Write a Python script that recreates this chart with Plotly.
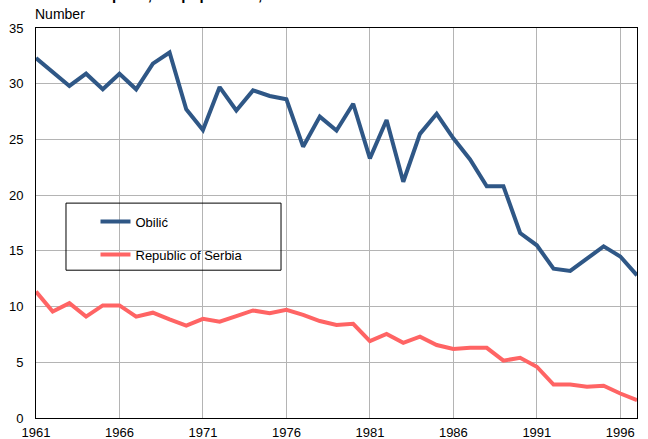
import plotly.graph_objects as go

years = list(range(1961, 1998))
obilic = [32.3, 31.1, 29.8, 30.9, 29.5, 30.9, 29.5, 31.8, 32.8, 27.7,
          25.85, 29.7, 27.6, 29.4, 28.9, 28.6, 24.35, 27.05, 25.8, 28.2,
          23.3, 26.75, 21.2, 25.5, 27.3, 25.1, 23.2, 20.8, 20.8, 16.6,
          15.5, 13.4, 13.2, 14.3, 15.4, 14.5, 12.8]
serbia = [11.35, 9.55, 10.3, 9.1, 10.1, 10.1, 9.1, 9.45, 8.85, 8.3,
          8.9, 8.65, 9.15, 9.65, 9.4, 9.7, 9.25, 8.7, 8.35, 8.45,
          6.9, 7.55, 6.75, 7.3, 6.55, 6.2, 6.3, 6.3, 5.15, 5.4,
          4.6, 3.0, 3.0, 2.8, 2.9, 2.2, 1.6]
tick_years = [1961, 1966, 1971, 1976, 1981, 1986, 1991, 1996]
y_ticks = [0, 5, 10, 15, 20, 25, 30, 35]

FONT = "Liberation Sans, Arial, sans-serif"
BLUE = "#2F5786"
RED = "#FF6464"

fig = go.Figure()
fig.add_trace(go.Scatter(x=years, y=obilic, mode="lines", name="Obilić",
                         line=dict(color=BLUE, width=4), legendgroup="a"))
fig.add_trace(go.Scatter(x=years, y=serbia, mode="lines", name="Republic of Serbia",
                         line=dict(color=RED, width=4), legendgroup="b"))

fig.update_layout(
    width=648, height=439,
    margin=dict(l=36, r=11, t=28, b=21),
    paper_bgcolor="white", plot_bgcolor="white",
    font=dict(family=FONT, size=13, color="black"),
    showlegend=True,
    legend=dict(x=0.099, y=0.542, xanchor="left", yanchor="top",
                bgcolor="rgba(0,0,0,0)", borderwidth=0,
                tracegroupgap=13, font=dict(size=13)),
    xaxis=dict(range=[1961, 1997], tickvals=tick_years, ticktext=[str(t) for t in tick_years],
               showgrid=True, gridcolor="#B4B4B4", gridwidth=1,
               showline=True, linecolor="black", linewidth=1, mirror=True,
               ticks="", zeroline=False, tickfont=dict(size=13),
               automargin=False, ticklabelstandoff=2),
    yaxis=dict(range=[0, 35], tickvals=y_ticks,
               showgrid=True, gridcolor="#B4B4B4", gridwidth=1,
               showline=True, linecolor="black", linewidth=1, mirror=True,
               ticks="", zeroline=False, tickfont=dict(size=13),
               automargin=False, ticklabelstandoff=9),
)

fig.add_shape(type="rect", xref="paper", yref="paper",
              x0=0.0499, x1=0.4077, y0=0.379, y1=0.551,
              line=dict(color="black", width=1), fillcolor="rgba(0,0,0,0)")

fig.add_annotation(text="Number", xref="paper", yref="paper", x=-0.005, y=1.0359,
                   xanchor="left", yanchor="middle", showarrow=False,
                   font=dict(size=14, family=FONT))
fig.add_annotation(text="<b>Live births per 1,000 population, 1961-1997</b>",
                   xref="paper", yref="paper", x=-0.01, y=1.086,
                   xanchor="left", yanchor="middle", showarrow=False,
                   font=dict(size=15, family=FONT))

fig.write_html("out.html", config={"displayModeBar": False},
               post_script="document.body.style.margin='0';")
